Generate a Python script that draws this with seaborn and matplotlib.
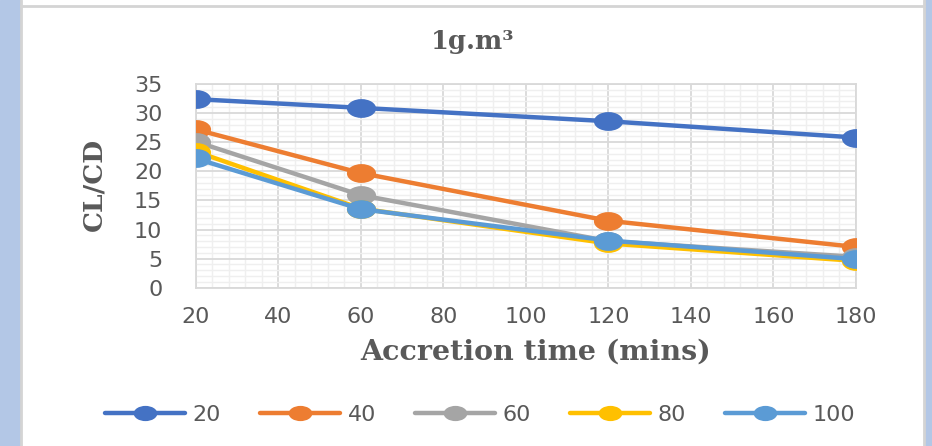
import numpy as np
import pandas as pd
import matplotlib
matplotlib.use("Agg")
import matplotlib.pyplot as plt
import seaborn as sns
from matplotlib.path import Path
from matplotlib.transforms import Affine2D
from matplotlib.patches import Rectangle
from matplotlib.lines import Line2D
from matplotlib.ticker import MultipleLocator

# ---- data ----
times = [20, 60, 120, 180]
series_names = ["20", "40", "60", "80", "100"]
s20 = [32.4, 30.9, 28.6, 25.8]
s40 = [27.2, 19.7, 11.5, 7.0]
s60 = [25.1, 15.9, 8.0, 5.3]
s80 = [23.4, 13.6, 7.6, 4.6]
s100 = [22.2, 13.5, 8.1, 4.9]
colors = ["#4472C4", "#ED7D31", "#A5A5A5", "#FFC000", "#5B9BD5"]

title = "1g.m\u00b3"
xlabel = "Accretion time (mins)"
ylabel = "CL/CD"

rows = []
for name, vals in zip(series_names, [s20, s40, s60, s80, s100]):
    for t, v in zip(times, vals):
        rows.append({"time": t, "value": v, "series": name})
df = pd.DataFrame(rows)

sns.set_theme(style="white")
plt.rcParams["font.family"] = ["DejaVu Sans"]

W, H = 932, 446
fig = plt.figure(figsize=(W / 100, H / 100), dpi=100)
fig.patch.set_facecolor("white")

# frame decorations (figure coords)
blue = "#b3c7e6"
gray = "#d4d4d4"
fig.patches.append(Rectangle((0, 0), 20 / W, 1, transform=fig.transFigure, color=blue, zorder=0))
fig.patches.append(Rectangle((925 / W, 0), 7 / W, 1, transform=fig.transFigure, color=blue, zorder=0))
fig.lines.append(Line2D([21 / W, 21 / W], [0, 1], transform=fig.transFigure, color=gray, lw=2))
fig.lines.append(Line2D([923.5 / W, 923.5 / W], [0, 1], transform=fig.transFigure, color=gray, lw=2))
fig.lines.append(Line2D([21 / W, 923.5 / W], [1 - 5.5 / H, 1 - 5.5 / H], transform=fig.transFigure, color=gray, lw=2))

ax = fig.add_axes([195.7 / W, 1 - 287.7 / H, (856 - 195.7) / W, (287.7 - 84) / H])

ellipse = Path.unit_circle().transformed(Affine2D().scale(1.55, 1.0))

palette = dict(zip(series_names, colors))
sns.lineplot(data=df, x="time", y="value", hue="series", hue_order=series_names,
             palette=palette, marker=ellipse, markersize=21, markeredgewidth=0,
             linewidth=3.2, ax=ax, legend=False, zorder=3)

ax.set_xlim(20, 180)
ax.set_ylim(0, 35)
ax.xaxis.set_major_locator(MultipleLocator(20))
ax.yaxis.set_major_locator(MultipleLocator(5))
ax.xaxis.set_minor_locator(MultipleLocator(4))
ax.yaxis.set_minor_locator(MultipleLocator(1))
ax.grid(which="major", color="#d9d9d9", linewidth=1.3, zorder=0)
ax.grid(which="minor", color="#efefef", linewidth=1.0, zorder=0)
ax.set_axisbelow(True)
for sp in ax.spines.values():
    sp.set_color("#d9d9d9")
    sp.set_linewidth(1.3)
    sp.set_clip_on(False)

ax.tick_params(axis="both", which="both", length=0, labelsize=16, colors="#595959")
ax.tick_params(axis="x", pad=14)
ax.tick_params(axis="y", pad=24)

ax.set_xlabel("")
ax.set_ylabel("")
fig.text(536 / W, 1 - 352 / H, xlabel, ha="center", va="center", fontsize=20.5,
         fontweight="bold", family=["DejaVu Serif"], color="#595959")
fig.text(94 / W, 1 - 184 / H, ylabel, ha="center", va="center", fontsize=19, rotation=90,
         fontweight="bold", family=["DejaVu Serif"], color="#595959")
fig.text(473 / W, 1 - 42 / H, title, ha="center", va="center", fontsize=18.5,
         fontweight="bold", family=["DejaVu Serif"], color="#595959")

handles = [Line2D([0], [0], color=c, lw=3.2, marker=ellipse, markersize=17, markeredgewidth=0)
           for c in colors]
leg = fig.legend(handles, series_names, loc="center", bbox_to_anchor=(480 / W, 1 - 415 / H),
                 ncol=5, frameon=False, fontsize=16, handlelength=3.6, handletextpad=0.35,
                 columnspacing=1.75)
for t in leg.get_texts():
    t.set_color("#595959")

fig.savefig("out.png", dpi=100, facecolor=fig.get_facecolor())
